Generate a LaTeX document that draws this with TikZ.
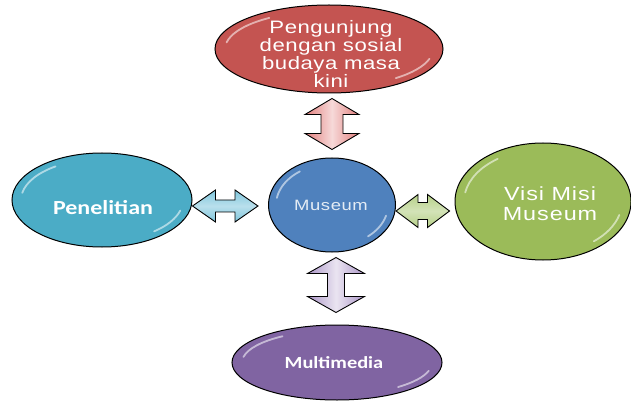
\documentclass[tikz,border=0pt]{standalone}
\usepackage{fontspec}
\setmainfont{Liberation Sans}
\newfontfamily\arialwide[FakeStretch=1.23]{Liberation Sans}
\newfontfamily\calibwide[FakeStretch=1.2]{Carlito}
\usetikzlibrary{shapes.geometric,calc}

% block arrow with two heads: style, from, to, head length, head half width, shaft half width
\newcommand\blockarr[6]{%
  \coordinate (h1) at ($(#2)!#4pt!(#3)$);
  \coordinate (h2) at ($(#3)!#4pt!(#2)$);
  \draw[#1] (#2) -- ($(h1)!#5pt!90:(#3)$) -- ($(h1)!#6pt!90:(#3)$)
    -- ($(h2)!#6pt!-90:(#2)$) -- ($(h2)!#5pt!-90:(#2)$) -- (#3)
    -- ($(h2)!#5pt!90:(#2)$) -- ($(h2)!#6pt!90:(#2)$)
    -- ($(h1)!#6pt!-90:(#3)$) -- ($(h1)!#5pt!-90:(#3)$) -- cycle;}

% glossy highlights on a bubble: node, x radius, y radius
\newcommand\gloss[3]{%
  \draw[shine] ($(#1.center)+(125:#2pt and #3pt)$) arc[start angle=125,end angle=170,x radius=#2pt,y radius=#3pt];
  \draw[shine] ($(#1.center)+(-15:#2pt and #3pt)$) arc[start angle=-15,end angle=-50,x radius=#2pt,y radius=#3pt];}

\begin{document}
\begin{tikzpicture}[x=1pt, y=-1pt]

  % Define Colors
  \definecolor{bubred}{RGB}{196,84,81}
  \definecolor{bubblue}{RGB}{79,129,189}
  \definecolor{bubcyan}{RGB}{75,172,198}
  \definecolor{bubgreen}{RGB}{155,187,89}
  \definecolor{bubpurple}{RGB}{128,100,162}
  \definecolor{arrred}{RGB}{226,128,126}
  \definecolor{arrcyan}{RGB}{128,198,220}
  \definecolor{arrgreen}{RGB}{182,208,136}
  \definecolor{arrpurple}{RGB}{172,150,200}

  % Node styles
  \tikzstyle{bub}=[ellipse, draw=black, line width=1pt, inner sep=0pt]
  \tikzstyle{txt}=[text=white, align=center, inner sep=0pt]
  \tikzstyle{shine}=[white, opacity=0.55, line width=1.8pt, line cap=round]
  \tikzstyle{harr}=[draw=black, line width=0.9pt, line join=miter]
  \tikzstyle{varr}=[draw=black, line width=0.9pt, line join=miter]

  \useasboundingbox (0,0) rectangle (631,403);

  % Bubbles
  \node[bub, fill=bubred, minimum width=228pt, minimum height=88pt] (peng) at (329,49) {};
  \node[bub, fill=bubblue, minimum width=127pt, minimum height=94pt] (mus) at (332,205) {};
  \node[bub, fill=bubcyan, minimum width=180pt, minimum height=94pt] (pen) at (102,200) {};
  \node[bub, fill=bubgreen, minimum width=176pt, minimum height=117pt] (visi) at (543,201.5) {};
  \node[bub, fill=bubpurple, minimum width=210pt, minimum height=75pt] (multi) at (337,362.5) {};

  \gloss{peng}{104}{38}
  \gloss{mus}{56}{41}
  \gloss{pen}{81}{41}
  \gloss{visi}{79}{52}
  \gloss{multi}{95}{32}

  % Texts
  \node[txt, font={\arialwide\addfontfeature{LetterSpace=3}\fontsize{18}{18}\selectfont}] (peng-t) at (331,54)
    {Pengunjung\\dengan sosial\\budaya masa\\kini};
  \node[txt, text=white!85!bubblue, font={\arialwide\addfontfeature{LetterSpace=4}\fontsize{15}{16}\selectfont}] (mus-t) at (331,205) {Museum};
  \node[txt, font={\calibwide\bfseries\fontsize{20}{22}\selectfont}] (pen-t) at (103,208) {Penelitian};
  \node[txt, font={\arialwide\addfontfeature{LetterSpace=5}\fontsize{19}{20}\selectfont}] (visi-t) at (550,204)
    {Visi Misi\\Museum};
  \node[txt, font={\calibwide\bfseries\fontsize{17}{18}\selectfont}] (multi-t) at (334,363) {Multimedia};

  % Arrow ends
  \coordinate (a1) at ([yshift=-6pt]pen.east);
  \coordinate (a2) at ([xshift=-10pt,yshift=-1pt]mus.west);
  \coordinate (b1) at ([yshift=-6pt]mus.east);
  \coordinate (b2) at ([xshift=-5pt,yshift=-9.5pt]visi.west);
  \coordinate (c1) at ([xshift=3pt,yshift=-5pt]peng.south);
  \coordinate (c2) at ([yshift=8pt]mus.north);
  \coordinate (d1) at ([xshift=4pt,yshift=-5pt]mus.south);
  \coordinate (d2) at ([xshift=-1pt,yshift=12pt]multi.north);

  % Arrows
  \blockarr{harr, top color=arrcyan, bottom color=arrcyan, middle color=white!45!arrcyan}{a1}{a2}{23}{16}{6}
  \blockarr{harr, top color=arrgreen, bottom color=arrgreen, middle color=white!40!arrgreen}{b1}{b2}{22}{16.5}{8.5}
  \blockarr{varr, left color=arrred, right color=arrred, middle color=white!70!arrred}{c1}{c2}{16}{27}{11}
  \blockarr{varr, left color=arrpurple, right color=arrpurple, middle color=white!75!arrpurple}{d1}{d2}{16}{28.5}{8.5}

\end{tikzpicture}
\end{document}
